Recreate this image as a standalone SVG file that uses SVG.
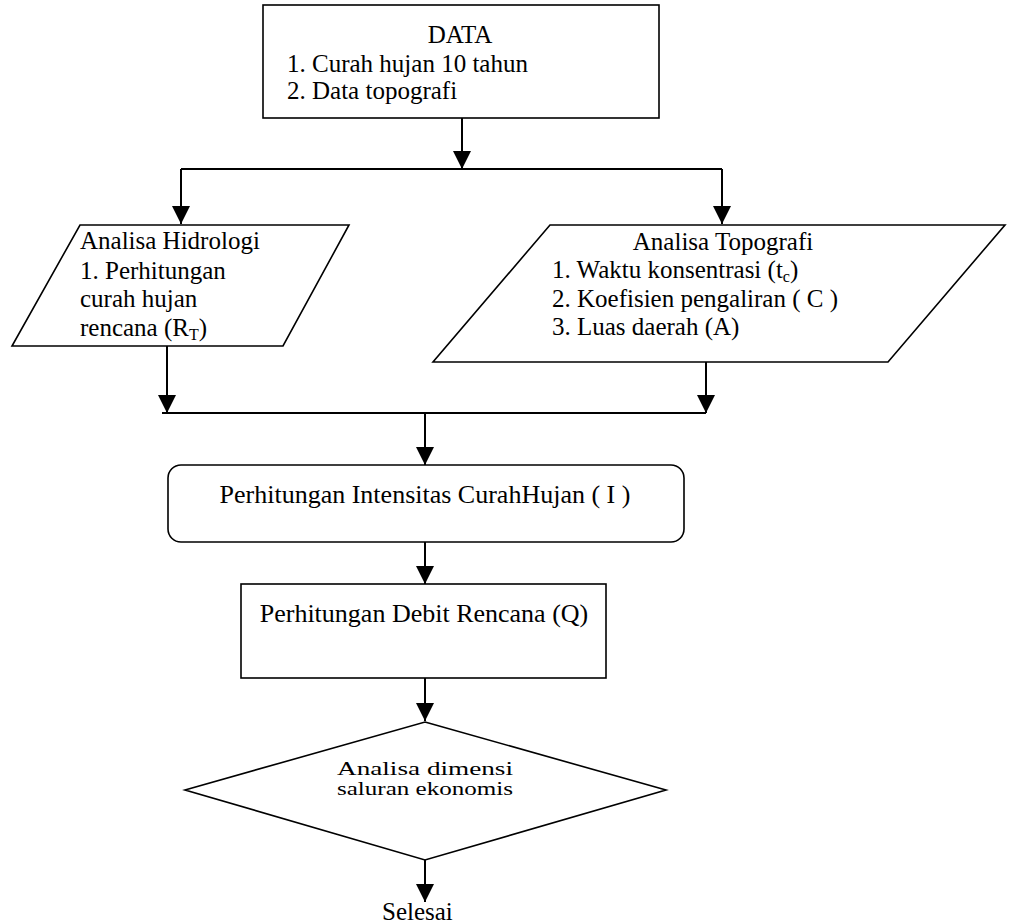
<svg xmlns="http://www.w3.org/2000/svg" width="1009" height="923" viewBox="0 0 1009 923">
<defs>
<marker id="ah" viewBox="0 0 10 10" refX="10" refY="5" markerWidth="9" markerHeight="9" orient="auto" markerUnits="strokeWidth">
<path d="M0,0 L10,5 L0,10 z" fill="#000"/>
</marker>
<style>
.shape{fill:#fff;stroke:#000;stroke-width:1.6}
.conn{fill:none;stroke:#000;stroke-width:2}
.arr{fill:none;stroke:#000;stroke-width:2;marker-end:url(#ah)}
text{font-family:"Liberation Serif","Times New Roman",serif;font-size:25px;fill:#000}
.mid{text-anchor:middle}
.big{font-size:26px}
.dia{font-size:18px}
</style>
</defs>
<rect width="1009" height="923" fill="#fff"/>
<g id="connectors">
<line class="arr" x1="462" y1="118" x2="462" y2="169"/>
<line class="conn" x1="181" y1="169" x2="722" y2="169"/>
<line class="arr" x1="181" y1="169" x2="181" y2="224"/>
<line class="arr" x1="722" y1="169" x2="722" y2="224"/>
<line class="arr" x1="167" y1="346" x2="167" y2="413"/>
<line class="arr" x1="706" y1="362" x2="706" y2="413"/>
<line class="conn" x1="162" y1="413" x2="706" y2="413"/>
<line class="arr" x1="425" y1="413" x2="425" y2="465"/>
<line class="arr" x1="425" y1="542" x2="425" y2="584"/>
<line class="arr" x1="425" y1="678" x2="425" y2="721"/>
<line class="arr" x1="425" y1="860" x2="425" y2="902"/>
</g>
<g id="data">
<rect class="shape" x="263" y="5" width="396" height="113"/>
<text class="mid" x="460" y="43">DATA</text>
<text x="287" y="72">1.  Curah hujan 10 tahun</text>
<text x="287" y="99">2.  Data topografi</text>
</g>
<g id="hidrologi">
<polygon class="shape" points="80,225 349,225 283,346 12,346"/>
<text x="80" y="249">Analisa Hidrologi</text>
<text x="80" y="279">1. Perhitungan</text>
<text x="80" y="307">curah hujan</text>
<text x="80" y="336">rencana (R<tspan font-size="16" dy="4">T</tspan><tspan dy="-4">)</tspan></text>
</g>
<g id="topografi">
<polygon class="shape" points="550,225 1005,225 888,362 433,362"/>
<text class="mid" x="723" y="250">Analisa Topografi</text>
<text x="552" y="278">1.  Waktu konsentrasi (t<tspan font-size="16" dy="4">c</tspan><tspan dy="-4">)</tspan></text>
<text x="552" y="307">2.  Koefisien pengaliran ( C )</text>
<text x="552" y="335">3.  Luas daerah (A)</text>
</g>
<g id="intensitas">
<rect class="shape" x="168" y="465" width="516" height="77" rx="13" ry="13"/>
<text class="mid big" x="425" y="503">Perhitungan Intensitas CurahHujan ( I )</text>
</g>
<g id="debit">
<rect class="shape" x="241" y="584" width="365" height="94"/>
<text class="mid big" x="424" y="622">Perhitungan Debit Rencana (Q)</text>
</g>
<g id="dimensi">
<polygon class="shape" points="425,722 666,790 425,860 185,790"/>
<text class="dia" x="337" y="775" textLength="176" lengthAdjust="spacingAndGlyphs">Analisa dimensi</text>
<text class="dia" x="337" y="795" textLength="176" lengthAdjust="spacingAndGlyphs">saluran ekonomis</text>
</g>
<g id="selesai">
<text x="382" y="920" font-size="24">Selesai</text>
</g>
</svg>
